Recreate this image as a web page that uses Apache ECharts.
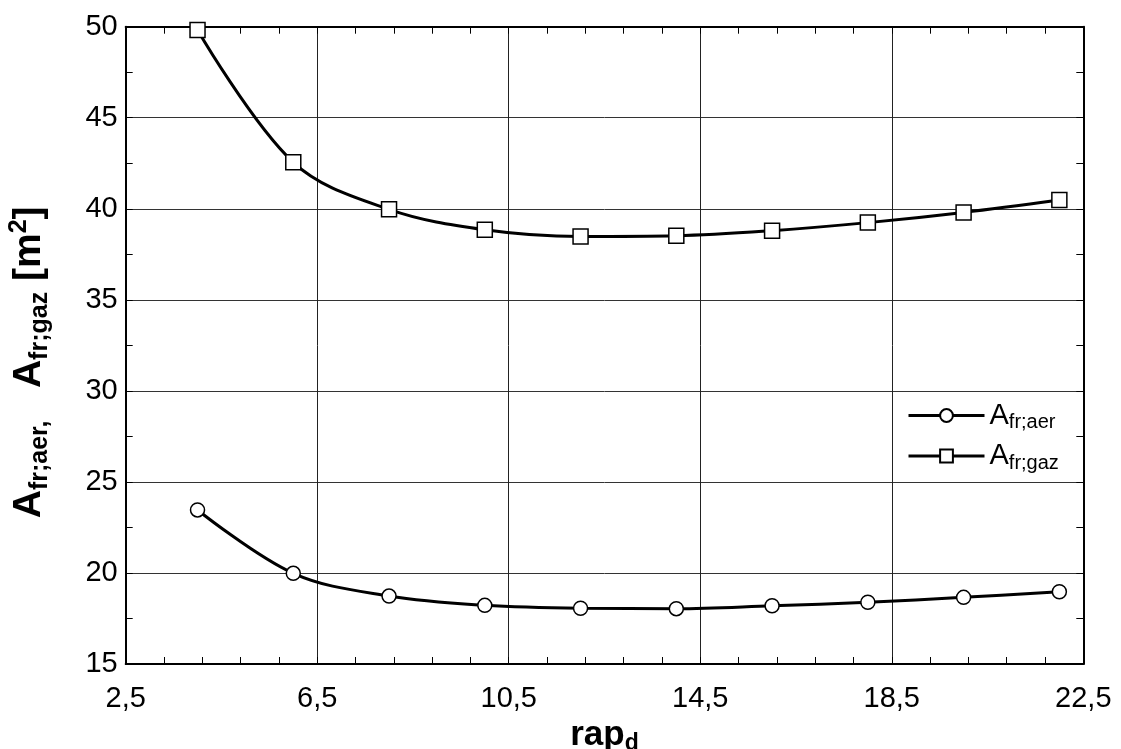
<!DOCTYPE html>
<html>
<head>
<meta charset="utf-8">
<script src="https://cdn.jsdelivr.net/npm/echarts@6/dist/echarts.min.js"></script>
<style>
html,body{margin:0;padding:0;background:#fff;}
#chart{width:1121px;height:749px;}
</style>
</head>
<body>
<div id="chart"></div>
<script>
const xValues = [4, 6, 8, 10, 12, 14, 16, 18, 20, 22];
const aerValues = [23.46, 19.98, 18.73, 18.22, 18.06, 18.04, 18.20, 18.39, 18.66, 18.97];
const gazValues = [49.82, 42.55, 39.97, 38.85, 38.48, 38.52, 38.80, 39.24, 39.80, 40.48];
const xMin = 2.5, xMax = 22.5, xStep = 4;
const yMin = 15, yMax = 50, yStep = 5;
const seriesNames = ['A_fr;aer', 'A_fr;gaz'];

const FONT = "'Liberation Sans', Arial, Helvetica, sans-serif";
const fmt = v => String(v).replace('.', ',');

const chart = echarts.init(document.getElementById('chart'), null, {renderer: 'canvas'});

const tickCommon = {show: true, inside: true, length: 7, lineStyle: {color: '#000', width: 1}};
const minorCommon = {show: true, length: 7, lineStyle: {color: '#000', width: 1}};
const lineCommon = {show: true, onZero: false, lineStyle: {color: '#000', width: 2}};

function pair(a, b) { return a.map((x, i) => [x, b[i]]); }

const option = {
  backgroundColor: '#fff',
  animation: false,
  textStyle: {fontFamily: FONT, color: '#000'},
  grid: {left: 125.7, right: 37.7, top: 26.7, bottom: 85, containLabel: false, outerBoundsMode: 'none'},
  legend: {
    orient: 'vertical',
    left: 902, top: 396,
    itemWidth: 76, itemHeight: 16, itemGap: 9, itemTextGap: 2,
    data: seriesNames,
    lineStyle: {width: 3, color: '#000'},
    formatter: name => {
      const p = name.split('_');
      return '{m|' + p[0] + '}{s|' + p[1] + '}';
    },
    textStyle: {
      color: '#000', fontFamily: FONT,
      rich: {
        m: {fontSize: 29, lineHeight: 34, fontFamily: FONT, color: '#000'},
        s: {fontSize: 20, lineHeight: 20, verticalAlign: 'bottom', fontFamily: FONT, color: '#000'}
      }
    }
  },
  xAxis: [{
    type: 'value', position: 'bottom', min: xMin, max: xMax, interval: xStep,
    axisLine: lineCommon,
    axisTick: tickCommon,
    minorTick: Object.assign({splitNumber: 5}, minorCommon),
    splitLine: {show: true, lineStyle: {color: '#222', width: 1}},
    axisLabel: {fontSize: 29, fontFamily: FONT, color: '#000', margin: 20, formatter: fmt},
    name: '{m|rap}{s|d}', nameLocation: 'middle', nameGap: 46,
    nameTextStyle: {
      rich: {
        m: {fontSize: 35, fontWeight: 'bold', lineHeight: 40, fontFamily: FONT, color: '#000'},
        s: {fontSize: 23, fontWeight: 'bold', lineHeight: 22, verticalAlign: 'bottom', fontFamily: FONT, color: '#000'}
      }
    }
  }, {
    type: 'value', position: 'top', min: xMin, max: xMax, interval: xStep,
    axisLine: lineCommon,
    axisTick: tickCommon,
    minorTick: Object.assign({splitNumber: 5}, minorCommon),
    splitLine: {show: false},
    axisLabel: {show: false}
  }],
  yAxis: [{
    type: 'value', position: 'left', min: yMin, max: yMax, interval: yStep,
    axisLine: lineCommon,
    axisTick: tickCommon,
    minorTick: Object.assign({splitNumber: 2}, minorCommon),
    splitLine: {show: true, lineStyle: {color: '#333', width: 1}},
    axisLabel: {fontSize: 29, fontFamily: FONT, color: '#000', margin: 8, formatter: fmt},
    name: '{m|A}{s|fr;aer,}{m|   A}{s|fr;gaz}{m| [m}{p|2}{m|]}',
    nameLocation: 'middle', nameRotate: 90, nameGap: 73,
    nameTextStyle: {
      padding: [0, 34, 0, 0],
      rich: {
        m: {fontSize: 39, fontWeight: 'bold', lineHeight: 46, fontFamily: FONT, color: '#000'},
        s: {fontSize: 25, fontWeight: 'bold', lineHeight: 28, verticalAlign: 'bottom', fontFamily: FONT, color: '#000'},
        p: {fontSize: 25, fontWeight: 'bold', lineHeight: 28, verticalAlign: 'top', fontFamily: FONT, color: '#000'}
      }
    }
  }, {
    type: 'value', position: 'right', min: yMin, max: yMax, interval: yStep,
    axisLine: lineCommon,
    axisTick: tickCommon,
    minorTick: Object.assign({splitNumber: 2}, minorCommon),
    splitLine: {show: false},
    axisLabel: {show: false}
  }],
  series: [{
    name: seriesNames[0], type: 'line', xAxisIndex: 0, yAxisIndex: 0,
    data: pair(xValues, aerValues),
    smooth: 0.35,
    symbol: 'circle', symbolSize: 14, showAllSymbol: true,
    lineStyle: {color: '#000', width: 3},
    itemStyle: {color: '#fff', borderColor: '#000', borderWidth: 1.5},
    z: 3
  }, {
    name: seriesNames[1], type: 'line', xAxisIndex: 0, yAxisIndex: 0,
    data: pair(xValues, gazValues),
    smooth: 0.35,
    symbol: 'rect', symbolSize: 15, showAllSymbol: true,
    lineStyle: {color: '#000', width: 3},
    itemStyle: {color: '#fff', borderColor: '#000', borderWidth: 1.5},
    z: 3
  }]
};
chart.setOption(option);
</script>
</body>
</html>
